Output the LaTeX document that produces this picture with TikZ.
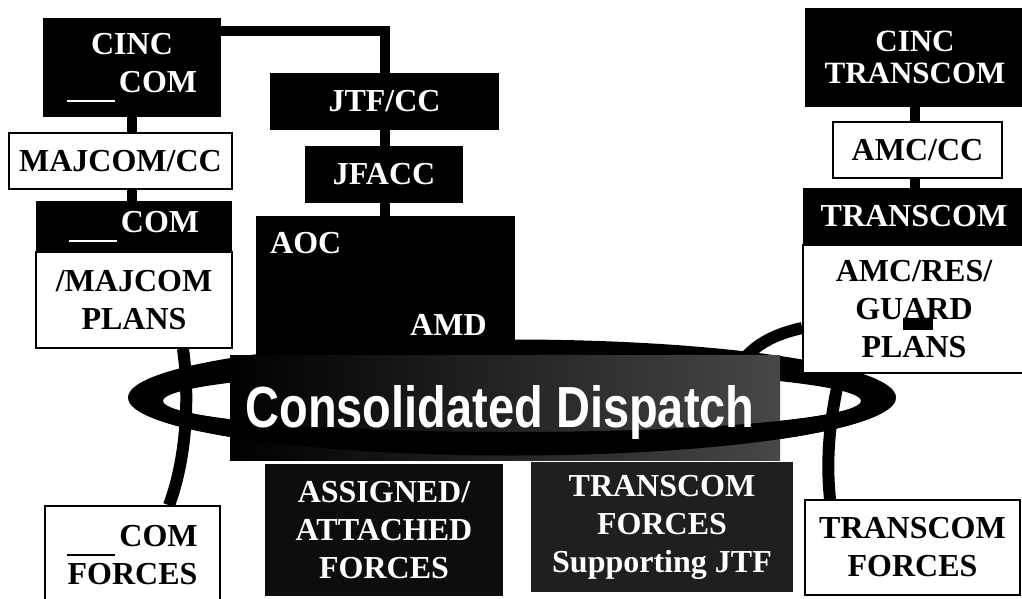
\documentclass[tikz,border=0pt]{standalone}
\usepackage{fontspec}
\setmainfont{Liberation Serif}
\newfontfamily\dispfont{Liberation Sans}
\usetikzlibrary{positioning}
\pgfdeclarelayer{connlayer}
\pgfdeclarelayer{ringlayer}
\pgfsetlayers{connlayer,ringlayer,main}
\newcommand{\comblank}{\rule[-10pt]{48pt}{2.5pt}\hspace{4pt}}

\begin{document}
\begin{tikzpicture}[x=1pt, y=-1pt,
		lbl/.style={font=\bfseries\fontsize{32}{38}\selectfont, align=center, inner sep=0pt},
		darkbox/.style={lbl, fill=black, text=white},
		whitebox/.style={lbl, draw=black, line width=1.5pt, fill=white, text=black},
		conn/.style={line width=10pt},
		link/.style={line width=12pt},
		ringpath/.style={even odd rule, fill=black}]
			\useasboundingbox (0,0) rectangle (1022,599);
			\clip (0,0) rectangle (1022,599);
			\node[darkbox, minimum width=178pt, minimum height=99pt] (cinccom) at (132,67.5) {CINC\\\comblank COM};
			\node[whitebox, minimum width=223pt, minimum height=56pt] (majcc) at (120.5,161) {MAJCOM/CC};
			\node[whitebox, minimum width=196pt, minimum height=96pt] (complans) at (134,300) {/MAJCOM\\PLANS};
			\node[darkbox, minimum width=196pt, minimum height=51pt] (comhead) at (134,226.5) {\comblank COM};
			\node[darkbox, minimum width=229pt, minimum height=57pt] (jtf) at (384.5,101.5) {JTF/CC};
			\node[darkbox, minimum width=158pt, minimum height=57pt] (jfacc) at (384,174.5) {JFACC};
			\node[fill=black, minimum width=259pt, minimum height=184pt] (aoc) at (385.5,308) {};
			\node[lbl, text=white, anchor=base west] (aoclbl) at (270,253) {AOC};
			\node[lbl, text=white, anchor=base west] (amdlbl) at (410,335) {AMD};
			\node[darkbox, font=\bfseries\fontsize{31}{32}\selectfont, minimum width=220pt, minimum height=99pt] (cinctrans) at (915,57.5) {CINC\\TRANSCOM};
			\node[whitebox, minimum width=169pt, minimum height=56pt] (amccc) at (917.5,150) {AMC/CC};
			\node[whitebox, minimum width=222pt, minimum height=128pt] (amcplans) at (914,309) {AMC/RES/\\GUARD\\PLANS};
			\node[darkbox, minimum width=222pt, minimum height=57pt] (trhead) at (914,216.5) {TRANSCOM};
			\fill (903,318) rectangle (933,330);
			\node[whitebox, minimum width=175pt, minimum height=98pt] (comforces) at (132.5,555) {\comblank COM\\FORCES};
			\node[darkbox, fill=black!95, minimum width=238pt, minimum height=132pt] (assigned) at (384,530) {ASSIGNED/\\ATTACHED\\FORCES};
			\node[darkbox, fill=black!88, minimum width=262pt, minimum height=130pt] (tjtf) at (662,527) {TRANSCOM\\FORCES\\Supporting JTF};
			\node[whitebox, minimum width=215pt, minimum height=95pt] (tforces) at (912.5,547.5) {TRANSCOM\\FORCES};
			\begin{pgfonlayer}{connlayer}
				\draw[conn] ([yshift=-13pt]cinccom.north east) -| (aoc.north -| jtf.north);
				\draw[conn] (cinccom.south) -- (cinccom.south |- complans.north);
				\draw[conn] (cinctrans.south) -- (cinctrans.south |- amcplans.north);
				\draw[link] ([xshift=49pt]complans.south) .. controls (190,400) and (186,460) .. ([xshift=36.5pt]comforces.north);
				\draw[link] ([xshift=-74pt]amcplans.south) .. controls (832,410) and (825,450) .. ([xshift=-82.5pt]tforces.north);
				\draw[link] ([yshift=-19pt]amcplans.west) .. controls (775,334) and (750,345) .. (735,372);
			\end{pgfonlayer}
			\begin{pgfonlayer}{ringlayer}
				\path[ringpath] (512,397.5) ellipse [x radius=384pt, y radius=58pt] (512,401) ellipse [x radius=349pt, y radius=31pt];
			\end{pgfonlayer}
			\node[left color=black, middle color=black, right color=black!72, minimum width=550pt, minimum height=105pt, inner sep=0pt] (dispbox) at (505,407.5) {};
			\begin{scope}
				\clip (0,401) rectangle (1022,470);
				\path[ringpath] (512,397.5) ellipse [x radius=384pt, y radius=58pt] (512,401) ellipse [x radius=349pt, y radius=31pt];
			\end{scope}
			\node[font=\dispfont\bfseries\fontsize{58}{60}\selectfont, text=white, inner sep=0pt, xscale=0.81, anchor=base] (disptext) at (500,427) {Consolidated Dispatch};
		\end{tikzpicture}
\end{document}
